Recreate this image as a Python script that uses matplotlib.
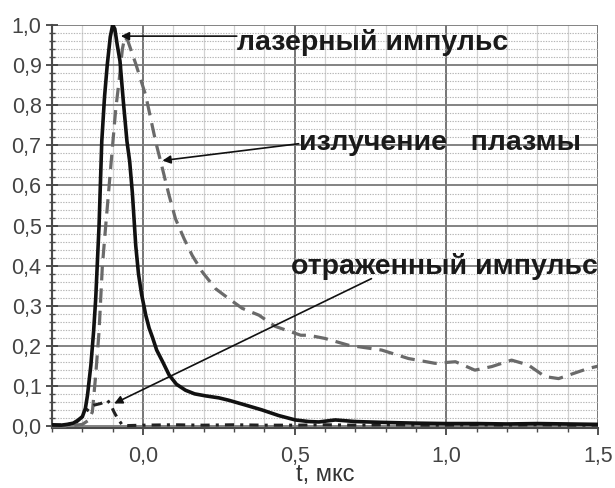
import matplotlib
matplotlib.use("Agg")
import matplotlib.pyplot as plt
from matplotlib.ticker import MultipleLocator

plt.rcParams['font.family'] = ['Liberation Sans', 'DejaVu Sans']

# ---------------- data ----------------
laser_t = [-0.30, -0.27, -0.25, -0.23, -0.215, -0.20, -0.19, -0.183, -0.172, -0.163,
           -0.156, -0.145, -0.136, -0.127, -0.118, -0.108, -0.100, -0.093, -0.085, -0.076,
           -0.065, -0.053, -0.044, -0.035, -0.024, -0.015, -0.005, 0.009, 0.020, 0.031,
           0.045, 0.064, 0.086, 0.110, 0.140, 0.170, 0.206, 0.250, 0.283, 0.338,
           0.392, 0.447, 0.502, 0.546, 0.580, 0.634, 0.700, 0.786, 0.900, 1.000,
           1.100, 1.200, 1.300, 1.400, 1.500]
laser_v = [0.004, 0.003, 0.005, 0.008, 0.015, 0.024, 0.045, 0.078, 0.152, 0.236,
           0.318, 0.500, 0.710, 0.820, 0.900, 0.970, 1.000, 0.990, 0.950, 0.910,
           0.810, 0.710, 0.660, 0.580, 0.450, 0.380, 0.330, 0.277, 0.245, 0.222,
           0.190, 0.162, 0.128, 0.105, 0.090, 0.081, 0.076, 0.071, 0.065, 0.053,
           0.041, 0.027, 0.016, 0.012, 0.011, 0.016, 0.012, 0.010, 0.008, 0.007,
           0.007, 0.006, 0.007, 0.006, 0.005]

plasma_t = [-0.30, -0.25, -0.20, -0.18, -0.167, -0.156, -0.145, -0.134, -0.123, -0.106,
            -0.090, -0.079, -0.068, -0.060, -0.050, -0.024, 0.009, 0.042, 0.064, 0.086,
            0.107, 0.135, 0.162, 0.195, 0.239, 0.283, 0.327, 0.382, 0.436, 0.520,
            0.546, 0.600, 0.678, 0.787, 0.875, 0.963, 1.030, 1.094, 1.150, 1.215,
            1.270, 1.325, 1.370, 1.420, 1.467, 1.500]
plasma_v = [0.000, 0.000, 0.005, 0.015, 0.036, 0.128, 0.236, 0.400, 0.500, 0.650,
            0.790, 0.860, 0.940, 0.970, 0.960, 0.903, 0.824, 0.708, 0.642, 0.575,
            0.517, 0.468, 0.426, 0.385, 0.343, 0.318, 0.294, 0.277, 0.249, 0.227,
            0.227, 0.219, 0.202, 0.190, 0.169, 0.157, 0.161, 0.140, 0.149, 0.165,
            0.153, 0.124, 0.119, 0.132, 0.144, 0.150]

refl_t = [-0.30, -0.25, -0.22, -0.20, -0.178, -0.161, -0.139, -0.117, -0.106, -0.095,
          -0.084, -0.068, -0.050, 0.000, 0.100, 0.200, 0.300, 0.400, 0.500, 0.600,
          0.700, 0.800, 0.900, 1.000, 1.100, 1.200, 1.300, 1.400, 1.500]
refl_v = [0.003, 0.004, 0.010, 0.025, 0.045, 0.053, 0.057, 0.065, 0.053, 0.035,
          0.020, 0.003, 0.002, 0.003, 0.004, 0.003, 0.004, 0.003, 0.003, 0.004,
          0.003, 0.004, 0.003, 0.003, 0.004, 0.003, 0.004, 0.003, 0.003]

x_ticks = [0.0, 0.5, 1.0, 1.5]
x_tick_labels = ["0,0", "0,5", "1,0", "1,5"]
y_ticks = [0.0, 0.1, 0.2, 0.3, 0.4, 0.5, 0.6, 0.7, 0.8, 0.9, 1.0]
y_tick_labels = ["0,0", "0,1", "0,2", "0,3", "0,4", "0,5", "0,6", "0,7", "0,8", "0,9", "1,0"]

label_laser = "лазерный импульс"
label_plasma = "излучение   плазмы"
label_refl = "отраженный импульс"
x_label = "t, мкс"

# ---------------- figure ----------------
fig = plt.figure(figsize=(6.15, 4.88), dpi=100)
ax = fig.add_axes([0.0846, 0.123, 0.8878, 0.826])

ax.set_xlim(-0.3, 1.5)
ax.set_ylim(-0.004, 1.0)

# grid
ax.xaxis.set_minor_locator(MultipleLocator(0.1))
ax.yaxis.set_minor_locator(MultipleLocator(0.02))
ax.grid(which='major', axis='y', color='#7a7a7a', lw=1.3, ls='-')
ax.grid(which='minor', axis='y', color='#b5b5b5', lw=0.8, ls=(0, (1.2, 1.2)))
ax.grid(which='major', axis='x', color='#6a6a6a', lw=1.3, ls='-')
ax.grid(which='minor', axis='x', color='#d2d2d2', lw=0.9, ls='-')
ax.set_axisbelow(True)

for s in ['top', 'right']:
    ax.spines[s].set_visible(False)
for s in ['left', 'bottom']:
    ax.spines[s].set_color('#4a4a4a')
    ax.spines[s].set_linewidth(1.5)

ax.set_xticks(x_ticks)
ax.set_xticklabels(x_tick_labels)
ax.set_yticks(y_ticks)
ax.set_yticklabels(y_tick_labels)
ax.tick_params(axis='both', which='major', labelsize=15.5, colors='#444444',
               length=6, width=1.3)
ax.tick_params(axis='y', which='major', direction='inout', length=9, pad=3)
ax.tick_params(axis='x', which='major', direction='out', length=5, pad=8)
ax.tick_params(axis='both', which='minor', colors='#4a4a4a', length=3, width=1.0)
ax.tick_params(axis='y', which='minor', direction='inout', length=5)

ax.set_xlabel(x_label, fontsize=17, color='#333333', labelpad=-2)

# curves
ax.plot(plasma_t, plasma_v, color='#6a6a6a', lw=2.3, ls=(0, (4.5, 2.5)), zorder=3)
ax.plot(refl_t, refl_v, color='#222222', lw=2.2, ls=(0, (3, 2, 1, 2)), zorder=4)
ax.plot(laser_t, laser_v, color='#111111', lw=2.6, zorder=5)

# annotations
arrow_kw = dict(arrowstyle='-|>', color='#111111', lw=1.2, mutation_scale=12,
                shrinkA=0, shrinkB=0)
txt_kw = dict(fontsize=20.5, fontweight='bold', color='#1a1a1a', va='center', ha='left')

ax.annotate('', xy=(-0.073, 0.972), xytext=(0.309, 0.972), arrowprops=arrow_kw)
ax.text(0.309, 0.955, label_laser, **txt_kw)

ax.annotate('', xy=(0.064, 0.662), xytext=(0.513, 0.704), arrowprops=arrow_kw)
ax.text(0.513, 0.705, label_plasma, **txt_kw)

ax.annotate('', xy=(-0.095, 0.057), xytext=(0.753, 0.368), arrowprops=arrow_kw)
ax.text(0.487, 0.398, label_refl, **txt_kw)

fig.savefig("out.png", dpi=100, facecolor='white')
